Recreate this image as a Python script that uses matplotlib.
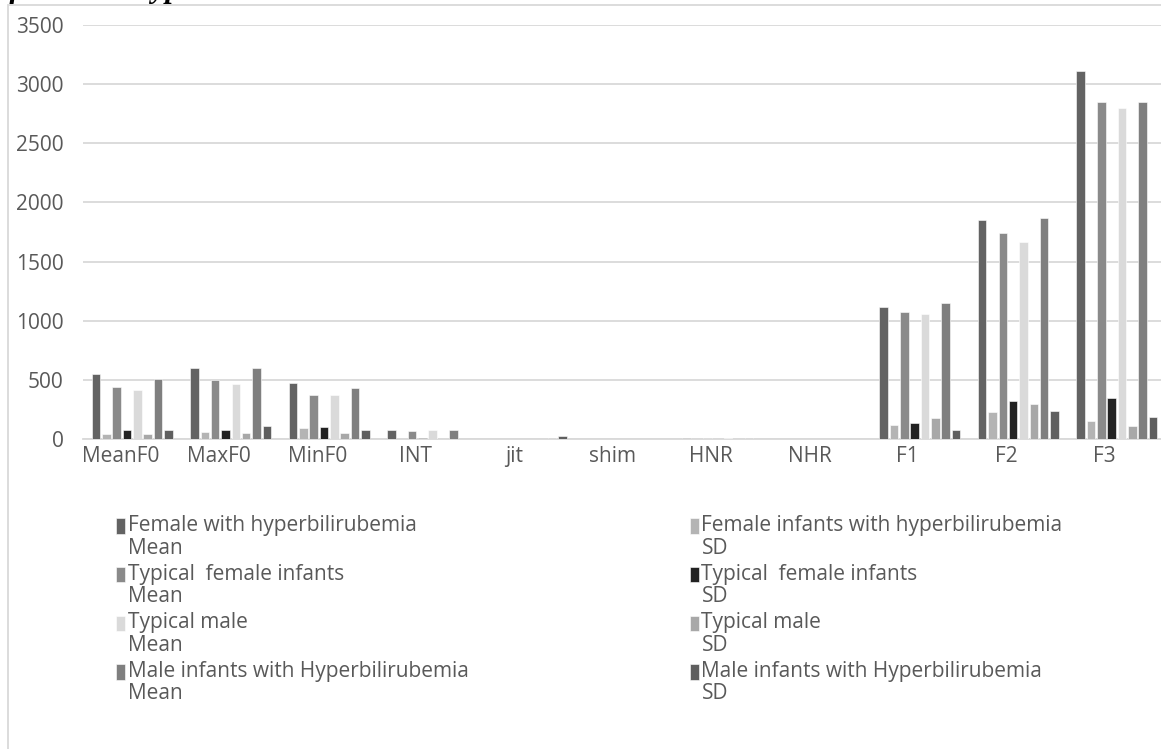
import numpy as np
import matplotlib
matplotlib.use('Agg')
import matplotlib.pyplot as plt
from matplotlib.patches import Rectangle
from matplotlib.legend_handler import HandlerPatch
from matplotlib.transforms import ScaledTranslation

categories = ['MeanF0', 'MaxF0', 'MinF0', 'INT', 'jit', 'shim', 'HNR', 'NHR', 'F1', 'F2', 'F3']

fem_hyper_mean = [552, 603, 473, 72, 0.5, 0.3, 11, 0.1, 1116, 1854, 3111]
fem_hyper_sd = [40, 56, 96, 4, 0.3, 0.1, 3, 0.05, 118, 228, 152]
typ_fem_mean = [442, 496, 375, 70, 0.5, 0.3, 11, 0.1, 1074, 1739, 2852]
typ_fem_sd = [79, 76, 104, 10, 0.3, 0.1, 3, 0.05, 138, 321, 349]
typ_male_mean = [417, 468, 375, 73, 0.5, 0.3, 11, 0.1, 1054, 1665, 2796]
typ_male_sd = [45, 53, 47, 4, 0.3, 0.1, 3, 0.05, 178, 296, 112]
male_hyper_mean = [507, 597, 434, 73, 8, 0.3, 11, 0.1, 1147, 1868, 2847]
male_hyper_sd = [73, 110, 79, 4, 25, 0.1, 3, 0.05, 76, 237, 186]

series = [fem_hyper_mean, fem_hyper_sd, typ_fem_mean, typ_fem_sd,
          typ_male_mean, typ_male_sd, male_hyper_mean, male_hyper_sd]
labels = ['Female with hyperbilirubemia\nMean',
          'Female infants with hyperbilirubemia\nSD',
          'Typical  female infants\nMean',
          'Typical  female infants\nSD',
          'Typical male\nMean',
          'Typical male\nSD',
          'Male infants with Hyperbilirubemia\nMean',
          'Male infants with Hyperbilirubemia\nSD']
colors = ['#636363', '#b4b4b4', '#8a8a8a', '#222222',
          '#dadada', '#a8a8a8', '#7f7f7f', '#5f5f5f']

plt.rcParams['font.family'] = ['Open Sans', 'DejaVu Sans']
text_col = '#595959'
grid_col = '#d9d9d9'
fs = 15

W, H = 1161, 749
fig = plt.figure(figsize=(W / 100, H / 100), dpi=100)

# plot area (extends a bit past the right edge, as in the cropped original)
left, right, top, bottom = 83, 1166, 25, 439
ax = fig.add_axes([left / W, 1 - bottom / H, (right - left) / W, (bottom - top) / H])

x = np.arange(len(categories))
pitch = 0.105
width = 0.087
handles = []
for i, (vals, c) in enumerate(zip(series, colors)):
    b = ax.bar(x + (i - 3.5) * pitch, vals, width, color=c,
               edgecolor='white', linewidth=0.4, zorder=3)
    handles.append(b.patches[0])

ax.set_xlim(-0.5, len(categories) - 0.5)
ax.set_ylim(0, 3500)
ax.set_yticks(np.arange(0, 3501, 500))
ax.set_xticks(x)
ax.set_xticklabels(categories)
ax.yaxis.grid(True, color=grid_col, linewidth=1.3, zorder=0)
ax.set_axisbelow(True)
for s in ['top', 'right', 'left']:
    ax.spines[s].set_visible(False)
ax.spines['bottom'].set_color(grid_col)
ax.spines['bottom'].set_linewidth(1.3)
ax.tick_params(axis='both', length=0, labelsize=fs, colors=text_col)
ax.tick_params(axis='y', pad=14)
ax.tick_params(axis='x', pad=5)
shift = ScaledTranslation(-12 / 100, 0, fig.dpi_scale_trans)
for lab in ax.get_xticklabels():
    lab.set_transform(lab.get_transform() + shift)


def top_square(legend, orig_handle, xdescent, ydescent, width, height, fontsize):
    return Rectangle((-xdescent, -ydescent + 0.55 * fontsize), width, height)


order = [0, 2, 4, 6, 1, 3, 5, 7]
leg = fig.legend([handles[i] for i in order], [labels[i] for i in order],
                 ncol=2, loc='upper left',
                 bbox_to_anchor=(116 / W, 1 - 515 / H),
                 frameon=False, fontsize=fs, borderpad=0, borderaxespad=0,
                 handlelength=0.45, handleheight=0.75, handletextpad=0.12,
                 labelspacing=0.24, columnspacing=10.6,
                 handler_map={Rectangle: HandlerPatch(patch_func=top_square)})
for t in leg.get_texts():
    t.set_color(text_col)
    t.set_linespacing(1.1)

# outer chart frame (cropped)
fig.patches.append(Rectangle((8 / W, -0.1), 1.2, 1.1 - 5 / H, transform=fig.transFigure,
                             fill=False, edgecolor=grid_col, linewidth=1.3))

# cut-off caption above the chart
fig.text(-16 / W, 1 + 3 / H, 'infants and hyperbilirubemia', family='Liberation Serif',
         weight='bold', style='italic', fontsize=22, va='baseline', ha='left')

fig.savefig('out.png', dpi=100)
